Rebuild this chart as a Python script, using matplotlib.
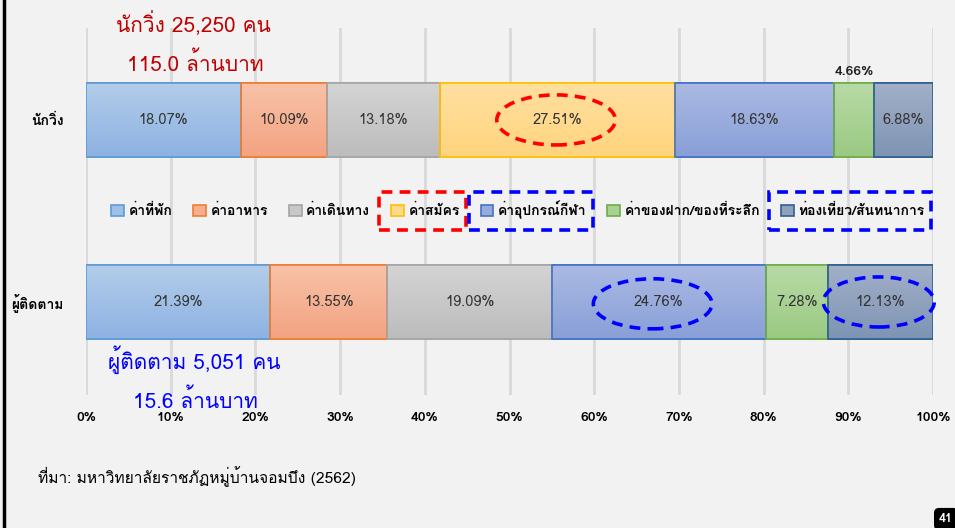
import matplotlib
matplotlib.use("Agg")
import matplotlib.pyplot as plt
import numpy as np
from matplotlib.patches import Ellipse, Rectangle
from matplotlib.lines import Line2D
from matplotlib.colors import LinearSegmentedColormap

plt.rcParams['font.family'] = ['Loma', 'DejaVu Sans']

# ข้อมูล
groups = ['ผู้ติดตาม', 'นักวิ่ง']
categories = ['ค่าที่พัก', 'ค่าอาหาร', 'ค่าเดินทาง', 'ค่าสมัคร', 'ค่าอุปกรณ์กีฬา',
              'ค่าของฝาก/ของที่ระลึก', 'ท่องเที่ยว/สันทนาการ']
runners = [18.07, 10.09, 13.18, 27.51, 18.63, 4.66, 6.88]
followers = [21.39, 13.55, 19.09, 0.0, 24.76, 7.28, 12.13]
xticks = [0, 10, 20, 30, 40, 50, 60, 70, 80, 90, 100]

fills = ['#9fbfe6', '#f5af8f', '#c8c8c8', '#ffd98c', '#98abdc', '#a9d193', '#8fa1bd']
tops = ['#b3cdea', '#f8c2a8', '#d4d4d4', '#ffe0a0', '#abbae3', '#b8daa6', '#a2b0c8']
bottoms = ['#8db2e2', '#f3a381', '#bcbcbc', '#ffd47e', '#889fd7', '#9aca82', '#7e94b4']
edges = ['#5b9bd5', '#ed7d31', '#a5a5a5', '#ffc000', '#4472c4', '#70ad47', '#2f5f91']

bg = '#f2f2f2'
fig = plt.figure(figsize=(9.55, 5.28), dpi=100, facecolor=bg)
ax = fig.add_axes([86 / 955, 1 - 395 / 528, 847 / 955, 367 / 528])
ax.set_facecolor(bg)

data = np.array([followers, runners])
pct = data / data.sum(axis=1, keepdims=True) * 100
ypos = [0, 1]
h = 0.407
grad = np.linspace(0, 1, 64).reshape(-1, 1)

left = np.zeros(2)
bars = []
for i, cat in enumerate(categories):
    b = ax.barh(ypos, pct[:, i], left=left, height=h, color=fills[i],
                edgecolor=edges[i], linewidth=1.2, label=cat, zorder=3)
    bars.append(b)
    cm = LinearSegmentedColormap.from_list('g%d' % i, [bottoms[i], tops[i]])
    for j, p in enumerate(b.patches):
        if pct[j, i] <= 0:
            continue
        x0, y0 = p.get_x(), p.get_y()
        im = ax.imshow(grad, extent=[x0, x0 + p.get_width(), y0, y0 + p.get_height()],
                       origin='lower', aspect='auto', cmap=cm, zorder=3.2)
        im.set_clip_path(p)
        ax.add_patch(Rectangle((x0, y0), p.get_width(), p.get_height(), fill=False,
                               edgecolor=edges[i], linewidth=1.2, zorder=3.4))
    for j in range(2):
        v = data[j, i]
        if v <= 0:
            continue
        xc = left[j] + pct[j, i] / 2
        if v < 5:
            # ป้ายของช่องแคบอยู่เหนือแท่ง
            ax.text(xc, ypos[j] + h / 2 + 0.06, f'{v:.2f}%', ha='center', va='center',
                    fontsize=10, fontweight='bold', color='#222222', zorder=5)
        else:
            ax.text(xc, ypos[j], f'{v:.2f}%', ha='center', va='center',
                    fontsize=10.5, color='#333333', zorder=5)
    left = left + pct[:, i]

ax.set_xlim(0, 100)
ax.set_ylim(-0.511, 1.505)
ax.set_xticks(xticks)
ax.set_xticklabels([f'{t}%' for t in xticks], fontsize=10, fontweight='bold')
ax.set_yticks(ypos)
ax.set_yticklabels(groups, fontsize=10, fontweight='bold')
ax.tick_params(axis='x', length=0, pad=12)
ax.tick_params(axis='y', length=0, pad=16)
ax.grid(axis='x', color='#d9d9d9', linewidth=2, zorder=0)
for s in ax.spines.values():
    s.set_visible(False)

# วงรีเส้นประ
ax.add_patch(Ellipse((55.5, 1.0), 14, 0.275, fill=False, edgecolor='#ff0000',
                     linestyle=(0, (3, 2)), linewidth=2.6, zorder=6))
ax.add_patch(Ellipse((66.9, -0.01), 14, 0.275, fill=False, edgecolor='#0000ff',
                     linestyle=(0, (3, 2)), linewidth=2.6, zorder=6))
ax.add_patch(Ellipse((93.6, 0.0), 13.1, 0.275, fill=False, edgecolor='#0000ff',
                     linestyle=(0, (3, 2)), linewidth=2.6, zorder=6, clip_on=False))

leg = fig.legend(handles=bars, labels=categories, loc='center', ncol=7,
                 bbox_to_anchor=(518 / 955, 1 - 210 / 528), frameon=False,
                 prop={'weight': 'bold', 'size': 10},
                 handlelength=0.9, handleheight=0.9, handletextpad=0.35,
                 columnspacing=1.5)

# กล่องเส้นประรอบรายการในคำอธิบาย
fig.canvas.draw()
rend = fig.canvas.get_renderer()
W, H = fig.bbox.width, fig.bbox.height
for idx, col in [(3, '#ff0000'), (4, '#0000ff'), (6, '#0000ff')]:
    hb = leg.legend_handles[idx].get_window_extent(rend)
    tb = leg.get_texts()[idx].get_window_extent(rend)
    x0 = min(hb.x0, tb.x0) - 12
    x1 = max(hb.x1, tb.x1) + 6
    yc = (hb.y0 + hb.y1) / 2
    fig.add_artist(Rectangle((x0 / W, (yc - 19) / H), (x1 - x0) / W, 38 / H,
                             transform=fig.transFigure, fill=False, edgecolor=col,
                             linestyle=(0, (3, 2)), linewidth=2.6, zorder=10))

fig.text(193 / 955, 1 - 24 / 528, 'นักวิ่ง 25,250 คน', color='#c00000', fontsize=15,
         ha='center', va='center')
fig.text(195 / 955, 1 - 63 / 528, '115.0 ล้านบาท', color='#c00000', fontsize=15,
         ha='center', va='center')
fig.text(194 / 955, 1 - 360 / 528, 'ผู้ติดตาม 5,051 คน', color='#0000ff', fontsize=15,
         ha='center', va='center')
fig.text(195 / 955, 1 - 400 / 528, '15.6 ล้านบาท', color='#0000ff', fontsize=15,
         ha='center', va='center')
fig.text(38 / 955, 1 - 477 / 528, 'ที่มา: มหาวิทยาลัยราชภัฏหมู่บ้านจอมบึง (2562)',
         fontsize=11.2, ha='left', va='center', color='black')

fig.add_artist(Line2D([4 / 955, 4 / 955], [0, 1], color='black', linewidth=2.5,
                      transform=fig.transFigure))
fig.text(946 / 955, 1 - 519 / 528, '41', color='white', fontsize=9, fontweight='bold',
         ha='center', va='center',
         bbox=dict(boxstyle='round,pad=0.35', fc='black', ec='black'))

fig.savefig('out.png', dpi=100, facecolor=bg)
